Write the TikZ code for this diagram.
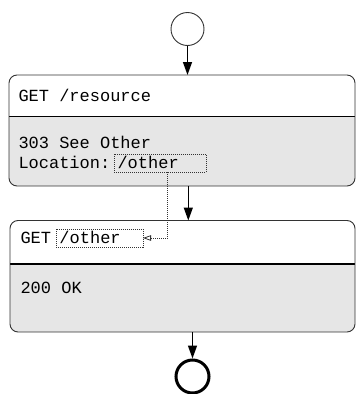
\documentclass[tikz,border=0pt]{standalone}
\usepackage{fontspec}
\setmonofont{Liberation Mono}
\usetikzlibrary{arrows.meta,calc}
\definecolor{bodygray}{HTML}{E6E6E6}
\definecolor{edgegray}{HTML}{333333}
\tikzset{
  txt/.style={font=\ttfamily\fontsize{17}{20}\selectfont, anchor=base west, inner sep=0pt, outer sep=0pt},
  linkbox/.style={txt, draw=edgegray, line width=0.8pt, dash pattern=on 1pt off 1pt,
    inner xsep=3.5pt, inner ysep=1.5pt, text height=13pt, text depth=2pt, align=left},
  statebox/.style={fill=bodygray, inner sep=0pt, outer sep=0pt, rounded corners=8pt, anchor=north west},
  border/.style={draw=edgegray, line width=0.9pt, rounded corners=8pt},
  divider/.style={draw=black, line width=1.3pt},
  flow/.style={draw=black, line width=1.3pt, -{Triangle[length=13pt,width=9pt]}},
  reflink/.style={draw=edgegray, line width=0.8pt, dash pattern=on 1pt off 1pt,
    -{Triangle[open,length=8pt,width=5.5pt,line width=0.8pt]}},
  initial/.style={circle, draw=edgegray, line width=0.9pt, fill=white, minimum size=33pt, inner sep=0pt},
  final/.style={circle, draw=black, line width=3pt, fill=white, minimum size=33pt, inner sep=0pt},
}
\begin{document}
\begin{tikzpicture}[x=1pt,y=-1pt]
  \useasboundingbox (0,0) rectangle (356,394);

  % first request/response box
  \node[statebox, minimum width=346pt, minimum height=111pt] (s1) at (9,75) {};
  \begin{scope}
    \clip[rounded corners=8pt] (s1.north west) rectangle (s1.south east);
    \fill[white] (s1.north west) rectangle ($(s1.north east)+(0,41.5)$);
    \draw[divider] ($(s1.north west)+(0,41.5)$) -- ($(s1.north east)+(0,41.5)$);
  \end{scope}
  \draw[border] (s1.north west) rectangle (s1.south east);

  % second request/response box
  \node[statebox, minimum width=345pt, minimum height=111.5pt] (s2) at (10,220.5) {};
  \begin{scope}
    \clip[rounded corners=8pt] (s2.north west) rectangle (s2.south east);
    \fill[white] (s2.north west) rectangle ($(s2.north east)+(0,43.5)$);
    \draw[divider] ($(s2.north west)+(0,43.5)$) -- ($(s2.north east)+(0,43.5)$);
  \end{scope}
  \draw[border] (s2.north west) rectangle (s2.south east);

  % texts
  \node[txt] (req1) at (18.5,101) {GET /resource};
  \node[txt] (code1) at (18.5,148.5) {303 See Other};
  \node[txt] (hdr1) at (18.5,168.5) {Location:};
  \node[linkbox, text width=85pt] (loc) at (114,168.5) {/other};

  \node[txt] (req2) at (20.5,243.5) {GET};
  \node[linkbox, text width=80pt] (target) at (56,243.5) {/other};
  \node[txt] (code2) at (20.5,293.5) {200 OK};

  % start and end states
  \node[initial] (start) at (187.5,29) {};
  \node[final] (stop) at (192.5,376.5) {};

  % transitions
  \draw[flow] (start.south) -- (start.south |- s1.north);
  \draw[flow] ($(start.south |- s1.south)+(0.8,0)$) -- ($(start.south |- s2.north)+(0.8,0)$);
  \draw[flow] (stop.north |- s2.south) -- (stop.north);

  % reference from the Location header to the next request
  \draw[reflink] ($(loc.south)+(7.7,0)$) |- (target.east);
\end{tikzpicture}
\end{document}
